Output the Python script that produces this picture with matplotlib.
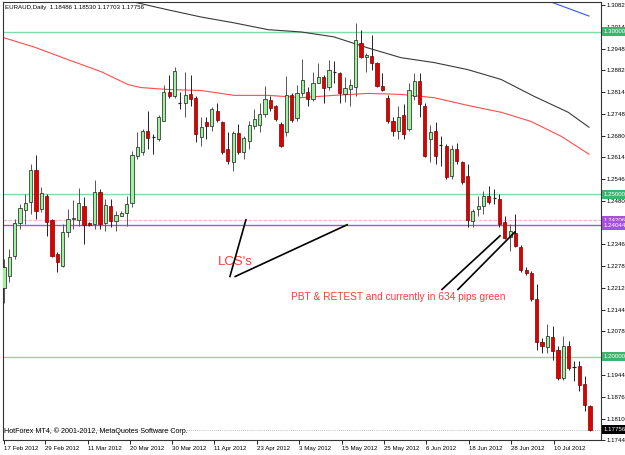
import matplotlib
matplotlib.use("Agg")
import matplotlib.pyplot as plt
import matplotlib.transforms as mtransforms
from matplotlib.patches import Rectangle

plt.rcParams['font.family'] = ['Liberation Sans', 'DejaVu Sans']

# EURAUD daily candles
opens = [1.2210, 1.2247, 1.2311, 1.2412, 1.2452, 1.2476, 1.2574, 1.2455, 1.2494, 1.2421,
         1.2317, 1.2280, 1.2384, 1.2424, 1.2421, 1.2464, 1.2412, 1.2409, 1.2507, 1.2412,
         1.2464, 1.2418, 1.2433, 1.2442, 1.2473, 1.2617, 1.2629, 1.2693, 1.2678, 1.2669,
         1.2724, 1.2813, 1.2801, 1.2782, 1.2782, 1.2807, 1.2797, 1.2675, 1.2721, 1.2709,
         1.2755, 1.2721, 1.2638, 1.2599, 1.2687, 1.2629, 1.2663, 1.2709, 1.2712, 1.2748,
         1.2791, 1.2770, 1.2715, 1.2690, 1.2804, 1.2733, 1.2810, 1.2813, 1.2794, 1.2843,
         1.2862, 1.2831, 1.2877, 1.2874, 1.2807, 1.2825, 1.2831, 1.2966, 1.2923, 1.2926,
         1.2905, 1.2834, 1.2797, 1.2724, 1.2693, 1.2745, 1.2700, 1.2801, 1.2847, 1.2770,
         1.2669, 1.2693, 1.2651, 1.2648, 1.2556, 1.2638, 1.2599, 1.2556, 1.2418, 1.2455,
         1.2464, 1.2494, 1.2488, 1.2485, 1.2415, 1.2369, 1.2381, 1.2338, 1.2268, 1.2259,
         1.2179, 1.2045, 1.2029, 1.2060, 1.2020, 1.1934, 1.2032, 1.1968, 1.1971, 1.1916,
         1.18486]
highs = [1.2302, 1.2332, 1.2424, 1.2470, 1.2501, 1.2592, 1.2620, 1.2522, 1.2501, 1.2424,
         1.2323, 1.2409, 1.2455, 1.2482, 1.2519, 1.2491, 1.2415, 1.2543, 1.2516, 1.2485,
         1.2485, 1.2449, 1.2449, 1.2494, 1.2632, 1.2690, 1.2700, 1.2755, 1.2684, 1.2745,
         1.2837, 1.2868, 1.2892, 1.2813, 1.2877, 1.2868, 1.2801, 1.2739, 1.2736, 1.2767,
         1.2782, 1.2724, 1.2690, 1.2693, 1.2715, 1.2678, 1.2724, 1.2761, 1.2782, 1.2834,
         1.2801, 1.2773, 1.2721, 1.2865, 1.2810, 1.2837, 1.2917, 1.2831, 1.2877, 1.2905,
         1.2868, 1.2914, 1.2911, 1.2877, 1.2859, 1.2853, 1.3027, 1.3006, 1.2935, 1.2990,
         1.2908, 1.2874, 1.2804, 1.2739, 1.2770, 1.2776, 1.2843, 1.2874, 1.2874, 1.2782,
         1.2712, 1.2721, 1.2678, 1.2654, 1.2651, 1.2657, 1.2602, 1.2592, 1.2455, 1.2494,
         1.2510, 1.2525, 1.2516, 1.2501, 1.2433, 1.2409, 1.2439, 1.2345, 1.2277, 1.2265,
         1.2225, 1.2057, 1.2100, 1.2094, 1.2032, 1.2063, 1.2048, 1.1987, 1.1987, 1.1941,
         1.18530]
lows = [1.2164, 1.2231, 1.2302, 1.2394, 1.2409, 1.2439, 1.2424, 1.2446, 1.2372, 1.2308,
        1.2262, 1.2277, 1.2369, 1.2394, 1.2403, 1.2348, 1.2403, 1.2394, 1.2394, 1.2387,
        1.2400, 1.2387, 1.2433, 1.2403, 1.2461, 1.2608, 1.2620, 1.2638, 1.2623, 1.2663,
        1.2724, 1.2797, 1.2797, 1.2761, 1.2739, 1.2770, 1.2660, 1.2648, 1.2669, 1.2693,
        1.2721, 1.2623, 1.2592, 1.2571, 1.2623, 1.2608, 1.2638, 1.2700, 1.2690, 1.2739,
        1.2755, 1.2724, 1.2644, 1.2678, 1.2721, 1.2724, 1.2801, 1.2770, 1.2788, 1.2843,
        1.2782, 1.2822, 1.2843, 1.2782, 1.2785, 1.2770, 1.2801, 1.2920, 1.2877, 1.2883,
        1.2831, 1.2816, 1.2718, 1.2678, 1.2669, 1.2669, 1.2693, 1.2791, 1.2739, 1.2614,
        1.2599, 1.2592, 1.2586, 1.2547, 1.2547, 1.2592, 1.2531, 1.2400, 1.2400, 1.2433,
        1.2439, 1.2470, 1.2470, 1.2400, 1.2363, 1.2326, 1.2338, 1.2262, 1.2250, 1.2170,
        1.2020, 1.2011, 1.2011, 1.1990, 1.1928, 1.1928, 1.1959, 1.1925, 1.1895, 1.1834,
        1.17703]
closes = [1.2277, 1.2308, 1.2412, 1.2458, 1.2473, 1.2574, 1.2449, 1.2504, 1.2415, 1.2311,
          1.2293, 1.2384, 1.2424, 1.2427, 1.2473, 1.2406, 1.2406, 1.2507, 1.2409, 1.2467,
          1.2418, 1.2436, 1.2442, 1.2470, 1.2620, 1.2644, 1.2693, 1.2672, 1.2677, 1.2736,
          1.2813, 1.2801, 1.2880, 1.2780, 1.2804, 1.2794, 1.2684, 1.2706, 1.2709, 1.2761,
          1.2727, 1.2629, 1.2602, 1.2687, 1.2629, 1.2672, 1.2712, 1.2730, 1.2748, 1.2794,
          1.2764, 1.2730, 1.2648, 1.2804, 1.2727, 1.2810, 1.2850, 1.2794, 1.2843, 1.2862,
          1.2828, 1.2883, 1.2876, 1.2810, 1.2828, 1.2837, 1.2975, 1.2923, 1.2929, 1.2905,
          1.2834, 1.2819, 1.2724, 1.2693, 1.2739, 1.2684, 1.2822, 1.2847, 1.2779, 1.2617,
          1.2690, 1.2617, 1.2650, 1.2553, 1.2638, 1.2602, 1.2537, 1.2421, 1.2449, 1.2464,
          1.2494, 1.2476, 1.2487, 1.2409, 1.2366, 1.2387, 1.2342, 1.2268, 1.2259, 1.2179,
          1.2045, 1.2032, 1.2063, 1.2017, 1.1934, 1.2032, 1.1965, 1.1967, 1.1913, 1.1852,
          1.17756]

# moving averages, sampled along the chart (bar index, price)
red_ma_x = [-0.6, 5.6, 12.0, 18.2, 23.3, 25.7, 30.8, 37.0, 43.2, 49.6, 55.8, 61.9,
            68.3, 74.5, 80.7, 87.1, 93.3, 98.9, 104.6, 109.8]
red_ma_y = [1.2984, 1.2953, 1.2914, 1.2877, 1.2837, 1.2828, 1.2822, 1.2819, 1.2804,
            1.2804, 1.2797, 1.2804, 1.2810, 1.2807, 1.2797, 1.2773, 1.2752, 1.2724,
            1.2678, 1.2623]
black_ma_x = [24.4, 30.8, 37.0, 43.2, 49.6, 55.8, 61.9, 68.3, 74.5, 80.7, 87.1, 93.3,
              99.5, 105.9, 109.8]
black_ma_y = [1.3091, 1.3067, 1.3045, 1.3027, 1.3006, 1.2999, 1.2984, 1.2950, 1.2920,
              1.2905, 1.2883, 1.2853, 1.2801, 1.2752, 1.2706]
blue_ma_x = [102.7, 109.8]
blue_ma_y = [1.3091, 1.3048]

# horizontal levels
green_levels = [1.30000, 1.25000, 1.20000]
pink_level = 1.24206
purple_level = 1.24044
last_price = 1.17756

price_ticks = [1.30820, 1.30140, 1.29480, 1.28820, 1.28140, 1.27480, 1.26800, 1.26140,
               1.25460, 1.24800, 1.24120, 1.23460, 1.22780, 1.22120, 1.21440, 1.20780,
               1.20100, 1.19440, 1.18760, 1.18100, 1.17440]
date_pos = [0, 7.7, 15.8, 23.65, 31.5, 39.4, 47.5, 55.4, 63.5, 71.3, 79.2, 87.3, 95.2, 103.2]
date_labels = ['17 Feb 2012', '29 Feb 2012', '11 Mar 2012', '20 Mar 2012', '30 Mar 2012',
               '11 Apr 2012', '23 Apr 2012', '3 May 2012', '15 May 2012', '25 May 2012',
               '6 Jun 2012', '18 Jun 2012', '28 Jun 2012', '10 Jul 2012']

fig = plt.figure(figsize=(6.25, 4.55), dpi=100)
ax = fig.add_axes([3 / 625, 15 / 455, 598 / 625, 438 / 455])
ax.set_xlim(-0.2, -0.2 + 598 / 5.327)
ax.set_ylim(1.17509, 1.30912)

# levels
for lv in green_levels:
    ax.axhline(lv, color='#86d9a8', lw=1.0, zorder=1)
ax.axhline(pink_level, color='#f2b8c8', lw=0.9, ls=(0, (3, 1)), zorder=1)
ax.axhline(purple_level, color='#a653e0', lw=1.0, zorder=1)
ax.axhline(last_price, color='#a8a8a8', lw=0.6, ls=(0, (1, 1.5)), zorder=1)

# moving averages
ax.plot(red_ma_x, red_ma_y, color='#ff4c4c', lw=0.8, zorder=2)
ax.plot(black_ma_x, black_ma_y, color='#3a3a3a', lw=0.8, zorder=2)
ax.plot(blue_ma_x, blue_ma_y, color='#3355ff', lw=0.8, zorder=2)

# candles
w = 0.6
for i, (o, h, l, c) in enumerate(zip(opens, highs, lows, closes)):
    up = c >= o
    ax.vlines(i, l, h, color='#555555' if up else '#222222', lw=0.7, zorder=3)
    lo, hi = min(o, c), max(o, c)
    if hi - lo < 0.00025:
        ax.hlines((o + c) / 2, i - w / 2, i + w / 2, color='#222222', lw=0.9, zorder=4)
    else:
        ax.add_patch(Rectangle((i - w / 2, lo), w, hi - lo,
                               facecolor='#9ef29e' if up else '#e00000',
                               edgecolor='#1a1a1a' if up else '#7a0000',
                               lw=0.5, zorder=4))

# hand-drawn annotations
red_txt = '#ff3b3b'
ax.text(40.2, 1.2292, "LCS's", color=red_txt, fontsize=9.5, va='center', ha='left')
ax.plot([42.4, 45.4], [1.2247, 1.2421], color='black', lw=1.2, zorder=5)
ax.plot([43.4, 64.4], [1.2247, 1.2406], color='black', lw=1.2, zorder=5)
ax.text(53.9, 1.2185, "PBT & RETEST and currently in 634 pips green", color=red_txt,
        fontsize=7.3, va='center', ha='left')
ax.plot([82.2, 93.1], [1.2207, 1.2372], color='black', lw=1.2, zorder=5)
ax.plot([85.2, 95.9], [1.2207, 1.2384], color='black', lw=1.2, zorder=5)

ax.text(0.003, 0.993, 'EURAUD,Daily  1.18486 1.18530 1.17703 1.17756', transform=ax.transAxes,
        fontsize=4.4, va='top', ha='left')
ax.text(0.002, 0.012, 'HotForex MT4, \u00a9 2001-2012, MetaQuotes Software Corp.',
        transform=ax.transAxes, fontsize=5.1, va='bottom', ha='left')

# axes
for s in ax.spines.values():
    s.set_color('#333333')
    s.set_linewidth(0.8)
ax.yaxis.tick_right()
ax.set_yticks(price_ticks)
ax.set_yticklabels([f'{v:.5f}' for v in price_ticks])
ax.set_xticks(date_pos)
ax.set_xticklabels(date_labels, ha='left')
ax.tick_params(axis='y', direction='out', length=3, width=0.6, pad=1, labelsize=4.4)
ax.tick_params(axis='x', direction='out', length=3, width=0.6, pad=1, labelsize=4.4)

# price boxes on the right scale
trans = mtransforms.blended_transform_factory(ax.transAxes, ax.transData)
boxes = [(1.30000, '#3cb46e'), (1.25000, '#3cb46e'), (1.20000, '#3cb46e'),
         (pink_level, '#a64fe0'), (purple_level, '#a64fe0'), (last_price, '#000000')]
for val, bg in boxes:
    ax.text(1.005, val, f'{val:.5f}', transform=trans, fontsize=4.4, color='white',
            va='center', ha='left', clip_on=False, zorder=6,
            bbox=dict(boxstyle='square,pad=0.3', fc=bg, ec='none'))

fig.savefig('out.png', dpi=100)
